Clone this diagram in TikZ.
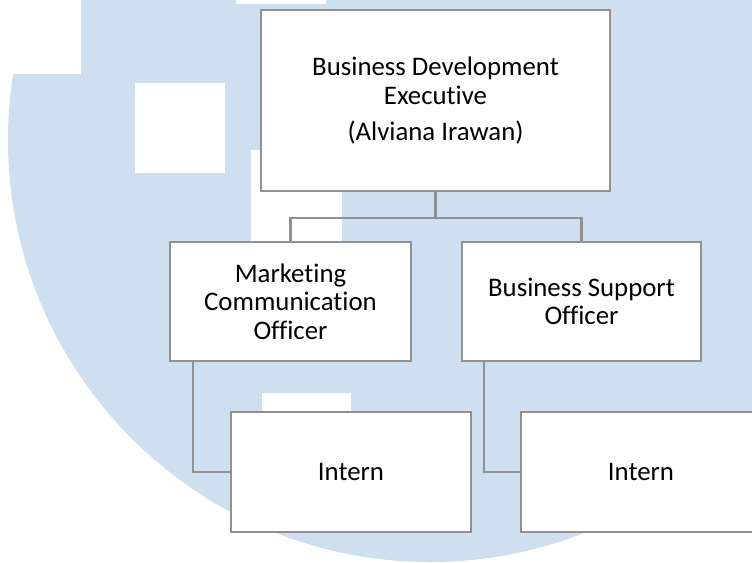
\documentclass[tikz,border=0pt]{standalone}
\usepackage{fontspec}
\setmainfont[Ligatures={NoCommon}]{Carlito}
\usetikzlibrary{calc}
\definecolor{wmblue}{RGB}{206,224,239}
\definecolor{boxgray}{RGB}{145,145,145}
\tikzset{
  orgbox/.style={draw=boxgray, line width=2.2pt, fill=white, align=center,
    inner sep=0pt, font=\fontsize{26.8}{28.5}\selectfont},
  link/.style={draw=boxgray, line width=2.2pt},
}
\begin{document}
\begin{tikzpicture}[x=1pt, y=-1pt]
  \useasboundingbox (0,0) rectangle (752,562);
  \clip (0,0) rectangle (752,562);
  % watermark: large disc with square cut-outs
  \fill[white] (0,0) rectangle (752,562);
  \fill[wmblue] (430,140) circle [radius=422pt];
  \fill[white] (0,0) rectangle (81,74);
  \fill[white] (236,0) rectangle (326,4);
  \fill[white] (135,83) rectangle (225,173);
  \fill[white] (251,150) rectangle (342,300);
  \fill[white] (262,393) rectangle (351,480);
  % boxes
  \node[orgbox, minimum width=349pt, minimum height=181pt] (bde) at (435.5,100.5)
    {Business Development\\Executive\\[7.5pt](Alviana Irawan)};
  \node[orgbox, minimum width=241pt, minimum height=119pt] (mco) at (290.5,301.5)
    {Marketing\\Communication\\Officer};
  \node[orgbox, minimum width=239pt, minimum height=119pt] (bso) at (581.5,301.5)
    {Business Support\\Officer};
  \node[orgbox, minimum width=240pt, minimum height=120pt] (int1) at (351,472) {Intern};
  \node[orgbox, minimum width=240pt, minimum height=120pt] (int2) at (641,472) {Intern};
  % reporting lines between the named boxes
  \coordinate (bar) at ($(bde.south)+(0,26)$);
  \draw[link] (bde.south) -- (bar);
  \draw[link] (bar) -| (mco.north);
  \draw[link] (bar) -| (bso.north);
  \draw[link] ($(mco.south west)+(24,0)$) |- (int1.west);
  \draw[link] ($(bso.south west)+(23,0)$) |- (int2.west);
\end{tikzpicture}
\end{document}
